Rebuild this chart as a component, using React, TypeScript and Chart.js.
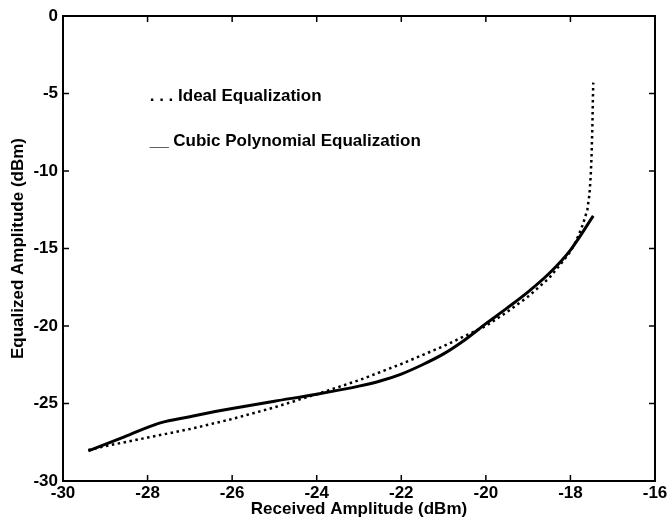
import React, { useEffect, useRef } from "react";
import { Chart, registerables } from "chart.js";

Chart.register(...registerables);

const idealX = [-29.4, -29, -28, -27, -26, -25, -24, -23, -22, -21, -20, -19.5, -19, -18.5, -18.2, -18, -17.9, -17.8, -17.7, -17.6, -17.55, -17.52, -17.5, -17.48, -17.47, -17.46];
const idealY = [-28.0, -27.75, -27.2, -26.65, -26.0, -25.25, -24.4, -23.5, -22.45, -21.3, -20.0, -19.1, -18.1, -16.9, -15.9, -15.2, -14.7, -14.1, -13.4, -12.5, -11.5, -10.3, -9.0, -7.0, -5.5, -4.3];

const cubicX = [-29.4, -28.55, -27.7, -27, -26.4, -26, -25, -24, -23, -22.5, -22, -21.5, -21, -20.5, -20, -19.5, -19, -18.5, -18, -17.46];
const cubicY = [-28.05, -27.15, -26.25, -25.85, -25.52, -25.32, -24.85, -24.4, -23.88, -23.55, -23.1, -22.5, -21.8, -20.9, -19.85, -18.85, -17.8, -16.6, -15.1, -12.9];

const xTicks = [-30, -28, -26, -24, -22, -20, -18, -16];
const yTicks = [0, -5, -10, -15, -20, -25, -30];

const legendLabels = [". . . Ideal Equalization", "__ Cubic Polynomial Equalization"];

const FONT = "'Liberation Sans', Arial, Helvetica, sans-serif";

const boxPlugin = {
  id: "boxTicks",
  afterDraw(chart: any) {
    const { ctx, chartArea } = chart;
    const xs = chart.scales.x;
    const ys = chart.scales.y;
    ctx.save();
    ctx.strokeStyle = "#000";
    ctx.lineWidth = 2;
    ctx.strokeRect(chartArea.left, chartArea.top, chartArea.right - chartArea.left, chartArea.bottom - chartArea.top);
    ctx.lineWidth = 1.5;
    const tl = 6;
    ctx.beginPath();
    xTicks.forEach((v) => {
      const px = xs.getPixelForValue(v);
      ctx.moveTo(px, chartArea.bottom);
      ctx.lineTo(px, chartArea.bottom - tl);
      ctx.moveTo(px, chartArea.top);
      ctx.lineTo(px, chartArea.top + tl);
    });
    yTicks.forEach((v) => {
      const py = ys.getPixelForValue(v);
      ctx.moveTo(chartArea.left, py);
      ctx.lineTo(chartArea.left + tl, py);
      ctx.moveTo(chartArea.right, py);
      ctx.lineTo(chartArea.right - tl, py);
    });
    ctx.stroke();
    ctx.fillStyle = "#000";
    ctx.font = "bold 17px " + FONT;
    ctx.textBaseline = "middle";
    ctx.textAlign = "left";
    const lx = xs.getPixelForValue(-27.95);
    ctx.fillText(legendLabels[0], lx, ys.getPixelForValue(-5.2));
    ctx.fillText(legendLabels[1], lx, ys.getPixelForValue(-8.1));
    ctx.restore();
  },
};

export default function App() {
  const ref = useRef<HTMLCanvasElement | null>(null);
  useEffect(() => {
    if (!ref.current) return;
    const chart = new Chart(ref.current, {
      type: "line",
      data: {
        datasets: [
          {
            label: "Ideal Equalization",
            data: idealX.map((x, i) => ({ x, y: idealY[i] })),
            borderColor: "#000",
            borderWidth: 2.5,
            borderDash: [2.5, 3.5],
            pointRadius: 0,
            tension: 0,
            fill: false,
          },
          {
            label: "Cubic Polynomial Equalization",
            data: cubicX.map((x, i) => ({ x, y: cubicY[i] })),
            borderColor: "#000",
            borderWidth: 3,
            pointRadius: 0,
            cubicInterpolationMode: "monotone",
            fill: false,
          },
        ],
      },
      options: {
        animation: false,
        responsive: false,
        maintainAspectRatio: false,
        layout: { padding: { left: 0, right: 12, top: 16, bottom: 0 } },
        plugins: { legend: { display: false }, tooltip: { enabled: false } },
        scales: {
          x: {
            type: "linear",
            min: -30,
            max: -16,
            afterBuildTicks: (s: any) => {
              s.ticks = xTicks.map((v) => ({ value: v }));
            },
            afterFit: (s: any) => {
              s.height = 46;
              s.paddingLeft = 0;
              s.paddingRight = 0;
            },
            grid: { display: false },
            border: { display: false },
            ticks: {
              color: "#000",
              padding: -6,
              maxRotation: 0,
              autoSkip: false,
              font: { family: FONT, size: 17, weight: "bold" },
              callback: (v: any) => String(v),
            },
            title: {
              display: true,
              text: "Received Amplitude (dBm)",
              color: "#000",
              font: { family: FONT, size: 17, weight: "bold" },
              padding: { top: 0, bottom: 7 },
            },
          },
          y: {
            type: "linear",
            min: -30,
            max: 0,
            afterBuildTicks: (s: any) => {
              s.ticks = yTicks.map((v) => ({ value: v }));
            },
            afterFit: (s: any) => {
              s.width = 63;
              s.paddingTop = 0;
              s.paddingBottom = 0;
            },
            grid: { display: false },
            border: { display: false },
            ticks: {
              color: "#000",
              padding: -3,
              autoSkip: false,
              font: { family: FONT, size: 17, weight: "bold" },
              callback: (v: any) => String(v),
            },
            title: {
              display: true,
              text: "Equalized Amplitude (dBm)",
              color: "#000",
              font: { family: FONT, size: 17, weight: "bold" },
              padding: { top: 8, bottom: 0 },
            },
          },
        },
      },
      plugins: [boxPlugin],
    });
    return () => chart.destroy();
  }, []);
  return (
    <div style={{ position: "absolute", left: 0, top: 0, width: 667, height: 527, background: "#fff" }}>
      <canvas ref={ref} width={667} height={527} style={{ display: "block" }} />
    </div>
  );
}
